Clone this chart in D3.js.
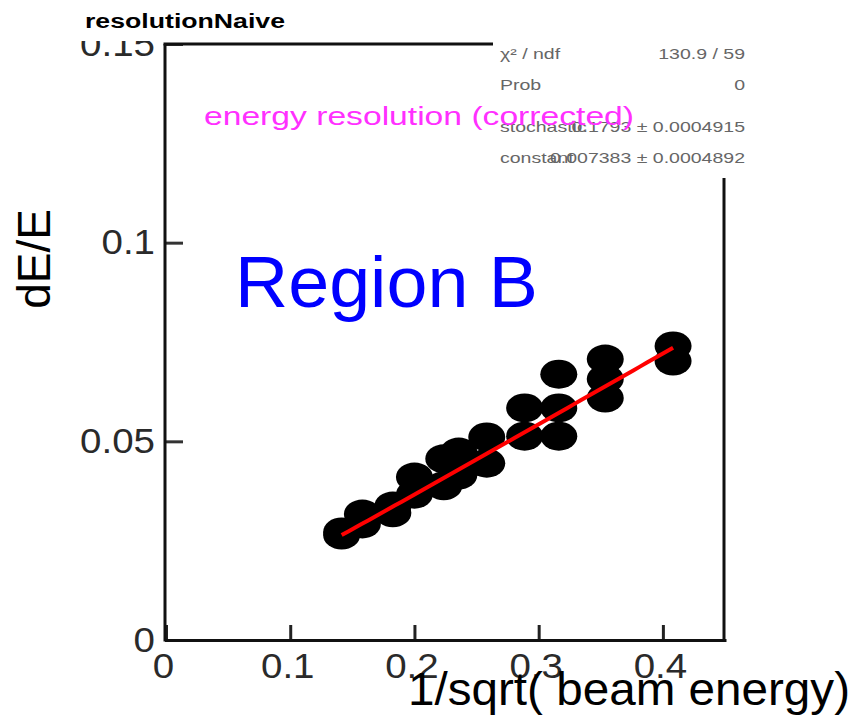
<!DOCTYPE html>
<html>
<head>
<meta charset="utf-8">
<script src="https://cdn.jsdelivr.net/npm/d3@7"></script>
<style>
  html, body { margin: 0; padding: 0; background: #fff; }
  svg { display: block; font-family: "Liberation Sans", Arial, Helvetica, sans-serif; }
</style>
</head>
<body>
<svg id="chart" width="853" height="719"></svg>
<script>
// Beam energy points: 1/sqrt(E) and measured dE/E (several runs per energy)
const invSqrtE = [0.1414, 0.1414, 0.1581, 0.1581, 0.1826, 0.1826, 0.2, 0.2,
                  0.2236, 0.2236, 0.2357, 0.2357, 0.2582, 0.2582, 0.2887, 0.2887,
                  0.3162, 0.3162, 0.3162, 0.3536, 0.3536, 0.3536, 0.4082, 0.4082];
const resolution = [0.0272, 0.0264, 0.0317, 0.0292, 0.0337, 0.0320, 0.0410, 0.0367,
                    0.0456, 0.0388, 0.0473, 0.0415, 0.0511, 0.0445, 0.0584, 0.0513,
                    0.0669, 0.0584, 0.0513, 0.0707, 0.0657, 0.0609, 0.0740, 0.0702];

// Fit: dE/E = sqrt((stochastic * x)^2 + constant^2)
const fitStochastic = 0.1793;
const fitConstant = 0.007383;

const xTickValues = [0, 0.1, 0.2, 0.3, 0.4];
const xTickLabels = ["0", "0.1", "0.2", "0.3", "0.4"];
const yTickValues = [0, 0.05, 0.1, 0.15];
const yTickLabels = ["0", "0.05", "0.1", "0.15"];

const statNames = ["\u03c7\u00b2 / ndf", "Prob", "stochastic", "constant"];
const statValues = ["130.9 / 59", "0", "0.1793 \u00b1 0.0004915", "0.007383 \u00b1 0.0004892"];

const svg = d3.select("#chart");

const x = d3.scaleLinear().domain([0, 0.45]).range([166, 725]);
const y = d3.scaleLinear().domain([0, 0.15]).range([640, 44]);

// stretch a text element horizontally by a factor
function stretch(sel, f) {
  sel.each(function () {
    const w = this.getComputedTextLength();
    d3.select(this).attr("textLength", w * f).attr("lengthAdjust", "spacingAndGlyphs");
  });
}

// markers
svg.append("g").selectAll("ellipse")
  .data(invSqrtE.map((v, i) => [v, resolution[i]]))
  .join("ellipse")
  .attr("cx", d => x(d[0]))
  .attr("cy", d => y(d[1]))
  .attr("rx", 18.5)
  .attr("ry", 14.5)
  .attr("fill", "#000");

// fit curve
const xMin = d3.min(invSqrtE), xMax = d3.max(invSqrtE);
const fitPts = d3.range(0, 51).map(i => {
  const xv = xMin + (xMax - xMin) * i / 50;
  return [xv, Math.sqrt((fitStochastic * xv) ** 2 + fitConstant ** 2)];
});
svg.append("path")
  .datum(fitPts)
  .attr("fill", "none")
  .attr("stroke", "#ff0000")
  .attr("stroke-width", 4)
  .attr("d", d3.line().x(d => x(d[0])).y(d => y(d[1])));

// axes
const xAxis = d3.axisBottom(x)
  .tickValues(xTickValues)
  .tickFormat((d, i) => xTickLabels[i])
  .tickSize(-15)
  .tickSizeOuter(0)
  .tickPadding(13);
const gx = svg.append("g").attr("transform", "translate(0,640)").call(xAxis);
gx.select(".domain").remove();
gx.selectAll("line").attr("stroke", "#222").attr("stroke-width", 3);
gx.selectAll("text")
  .attr("font-size", 35)
  .attr("fill", "#2a2a2a")
  .attr("font-family", "Liberation Sans, Arial, sans-serif")
  .attr("x", -3)
  .call(stretch, 1.1);

const yAxis = d3.axisLeft(y)
  .tickValues(yTickValues)
  .tickFormat((d, i) => yTickLabels[i])
  .tickSize(-17)
  .tickSizeOuter(0)
  .tickPadding(11);
const gy = svg.append("g").attr("transform", "translate(166,0)").call(yAxis);
gy.select(".domain").remove();
gy.selectAll("line").attr("stroke", "#333").attr("stroke-width", 3);
gy.selectAll("text")
  .attr("font-size", 35)
  .attr("fill", "#2a2a2a")
  .attr("font-family", "Liberation Sans, Arial, sans-serif")
  .call(stretch, 1.1);

// frame
const frame = svg.append("g").attr("stroke", "#111").attr("stroke-width", 3).attr("fill", "none");
frame.append("line").attr("x1", x(0) - 1).attr("x2", x(0) - 1).attr("y1", y(0.15)).attr("y2", y(0) + 1.5);
frame.append("line").attr("x1", x(0) - 1).attr("x2", x(0.45) + 1.5).attr("y1", y(0) + 0.5).attr("y2", y(0) + 0.5);
frame.append("line").attr("x1", x(0) - 2.5).attr("x2", 493).attr("y1", y(0.15)).attr("y2", y(0.15));
frame.append("line").attr("x1", x(0.45) - 1).attr("x2", x(0.45) - 1).attr("y1", 178).attr("y2", y(0) + 1.5);

// white band above the frame where the title sits
svg.append("rect").attr("x", 0).attr("y", 0).attr("width", 493).attr("height", 41).attr("fill", "#fff");

// title
svg.append("text")
  .attr("x", 85).attr("y", 28)
  .attr("font-size", 20)
  .attr("font-weight", "bold")
  .attr("fill", "#000")
  .attr("textLength", 200)
  .attr("lengthAdjust", "spacingAndGlyphs")
  .text("resolutionNaive");

// statistics box
svg.append("rect").attr("x", 493).attr("y", 30).attr("width", 270).attr("height", 148).attr("fill", "#fff");
const statBaselines = [59, 90, 132, 163];
const stats = svg.append("g").attr("fill", "#666").attr("font-size", 15);
stats.selectAll("text.name")
  .data(statNames)
  .join("text")
  .attr("class", "name")
  .attr("x", 500)
  .attr("y", (d, i) => statBaselines[i])
  .text(d => d)
  .call(stretch, 1.3);
stats.selectAll("text.value")
  .data(statValues)
  .join("text")
  .attr("class", "value")
  .attr("x", 745)
  .attr("y", (d, i) => statBaselines[i])
  .attr("text-anchor", "end")
  .text(d => d)
  .call(stretch, 1.3);

// legend-style caption
svg.append("text")
  .attr("x", 204).attr("y", 125)
  .attr("font-size", 25)
  .attr("fill", "#ff30ff")
  .attr("textLength", 430)
  .attr("lengthAdjust", "spacingAndGlyphs")
  .text("energy resolution (corrected)");

// region label
svg.append("text")
  .attr("x", 235).attr("y", 307)
  .attr("font-size", 72)
  .attr("fill", "#0000ff")
  .attr("textLength", 303)
  .attr("lengthAdjust", "spacingAndGlyphs")
  .text("Region B");

// axis titles
svg.append("text")
  .attr("x", 850).attr("y", 705)
  .attr("text-anchor", "end")
  .attr("font-size", 46)
  .attr("fill", "#000")
  .attr("textLength", 442)
  .attr("lengthAdjust", "spacingAndGlyphs")
  .text("1/sqrt( beam energy)");

svg.append("text")
  .attr("transform", "translate(50,259) rotate(-90)")
  .attr("text-anchor", "middle")
  .attr("font-size", 46)
  .attr("fill", "#000")
  .text("dE/E");
</script>
</body>
</html>
